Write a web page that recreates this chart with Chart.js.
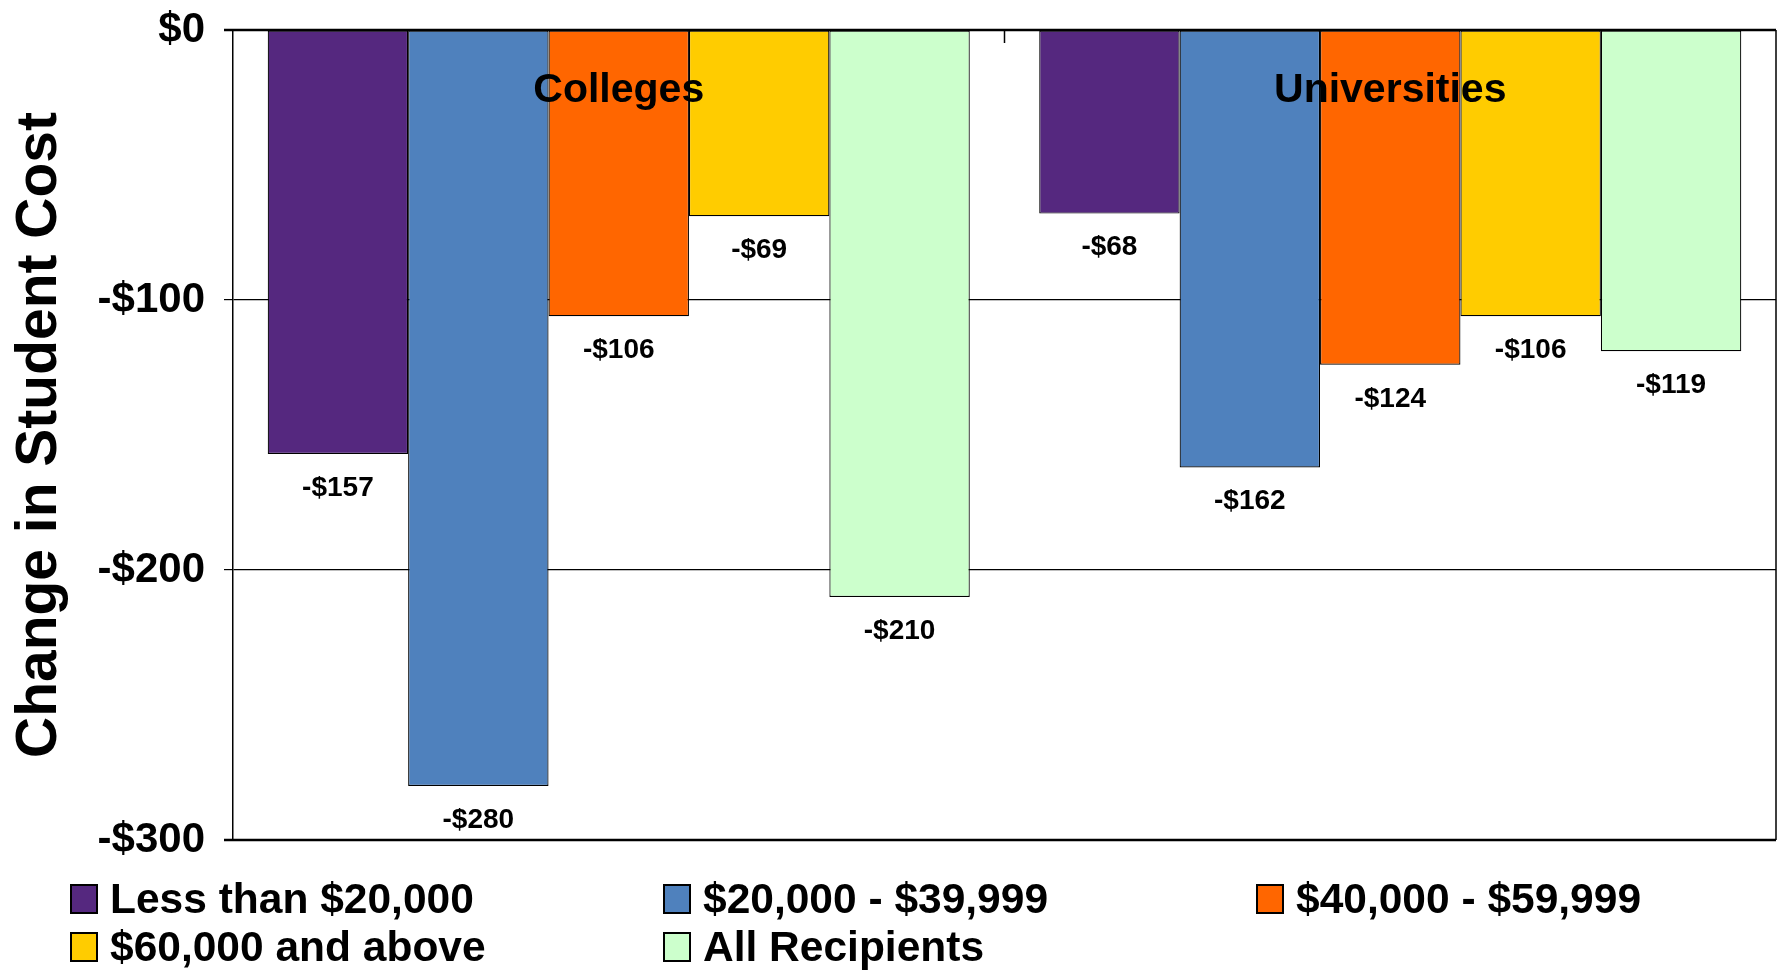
<!DOCTYPE html>
<html>
<head>
<meta charset="utf-8">
<script src="https://cdn.jsdelivr.net/npm/chart.js@4/dist/chart.umd.min.js"></script>
<style>
  body { margin: 0; background: #fff; }
  #wrap { position: relative; width: 1783px; height: 970px; }
  #legend { position: absolute; left: 70px; top: 875px; width: 1700px;
            display: grid; grid-template-columns: 593px 593px 514px; grid-auto-rows: 48px;
            font-family: "Liberation Sans", Arial, sans-serif; font-weight: bold; font-size: 42.5px; color: #000; }
  .item { display: flex; align-items: center; white-space: nowrap; }
  .box { width: 24px; height: 26px; border: 2px solid #000; margin-right: 12px; flex: none; }
</style>
</head>
<body>
<div id="wrap">
  <canvas id="costChart" width="1783" height="970"></canvas>
  <div id="legend"></div>
</div>
<script>
// data
const categories = ['Colleges', 'Universities'];
const seriesNames = ['Less than $20,000', '$20,000 - $39,999', '$40,000 - $59,999', '$60,000 and above', 'All Recipients'];
const lessThan20k = [-157, -68];
const from20kTo40k = [-280, -162];
const from40kTo60k = [-106, -124];
const above60k = [-69, -106];
const allRecipients = [-210, -119];
const yTicks = [0, -100, -200, -300];
const seriesColors = ['#55287F', '#4F81BD', '#FF6600', '#FFCC00', '#CCFFCC'];

const seriesValues = [lessThan20k, from20kTo40k, from40kTo60k, above60k, allRecipients];
const fontFamily = '"Liberation Sans", Arial, sans-serif';

function money(v) {
    return v < 0 ? '-$' + Math.abs(v) : '$' + v;
}

// value labels under each bar, category names inside the top of the plot, frame
const extras = {
    id: 'extras',
    afterDatasetsDraw(chart) {
        const ctx = chart.ctx;
        const area = chart.chartArea;
        const xs = chart.scales.x;
        ctx.save();
        ctx.fillStyle = '#000';
        ctx.textAlign = 'center';
        ctx.textBaseline = 'middle';
        ctx.font = 'bold 28px ' + fontFamily;
        chart.data.datasets.forEach((ds, i) => {
            chart.getDatasetMeta(i).data.forEach((bar, j) => {
                ctx.fillText(money(ds.data[j]), bar.x, bar.y + 34);
            });
        });
        ctx.font = 'bold 41px ' + fontFamily;
        categories.forEach((c, j) => {
            ctx.fillText(c, xs.getPixelForValue(j), area.top + 61);
        });
        // frame
        ctx.strokeStyle = '#000';
        ctx.lineWidth = 2.5;
        ctx.beginPath();
        ctx.moveTo(area.left - 9, area.top); ctx.lineTo(area.right, area.top);
        ctx.moveTo(area.left - 9, area.bottom); ctx.lineTo(area.right, area.bottom);
        ctx.stroke();
        ctx.lineWidth = 1.5;
        ctx.beginPath();
        ctx.moveTo(area.right, area.top); ctx.lineTo(area.right, area.bottom);
        const mid = (xs.getPixelForValue(0) + xs.getPixelForValue(1)) / 2;
        ctx.moveTo(mid, area.top); ctx.lineTo(mid, area.top + 13);
        ctx.stroke();
        ctx.restore();
    }
};

const ctx = document.getElementById('costChart').getContext('2d');
const chart = new Chart(ctx, {
    type: 'bar',
    data: {
        labels: categories,
        datasets: seriesNames.map((name, i) => ({
            label: name,
            data: seriesValues[i],
            backgroundColor: seriesColors[i],
            borderColor: '#000',
            borderWidth: 1.2,
            borderSkipped: false,
            categoryPercentage: 0.91,
            barPercentage: 1.0
        }))
    },
    options: {
        responsive: false,
        animation: false,
        layout: { padding: { top: 30, bottom: 130, left: 0, right: 7 } },
        plugins: {
            legend: { display: false },
            tooltip: { enabled: false }
        },
        scales: {
            x: { display: false },
            y: {
                min: -300,
                max: 0,
                afterFit: (s) => { s.width = 233; s.paddingTop = 0; s.paddingBottom = 0; },
                afterBuildTicks: (s) => { s.ticks = yTicks.map(v => ({ value: v })); },
                ticks: {
                    color: '#000',
                    padding: 19,
                    font: { family: fontFamily, size: 42, weight: 'bold' },
                    callback: (v) => money(v)
                },
                grid: { color: '#000', lineWidth: 1.2, tickLength: 9 },
                border: { display: true, color: '#000', width: 1.5 },
                title: {
                    display: true,
                    text: 'Change in Student Cost',
                    color: '#000',
                    padding: { top: 6, bottom: 0 },
                    font: { family: fontFamily, size: 57, weight: 'bold' }
                }
            }
        }
    },
    plugins: [extras]
});

// legend in three columns like the original
const legend = document.getElementById('legend');
seriesNames.forEach((name, i) => {
    const item = document.createElement('div');
    item.className = 'item';
    const box = document.createElement('span');
    box.className = 'box';
    box.style.background = seriesColors[i];
    item.appendChild(box);
    item.appendChild(document.createTextNode(name));
    legend.appendChild(item);
});
</script>
</body>
</html>
